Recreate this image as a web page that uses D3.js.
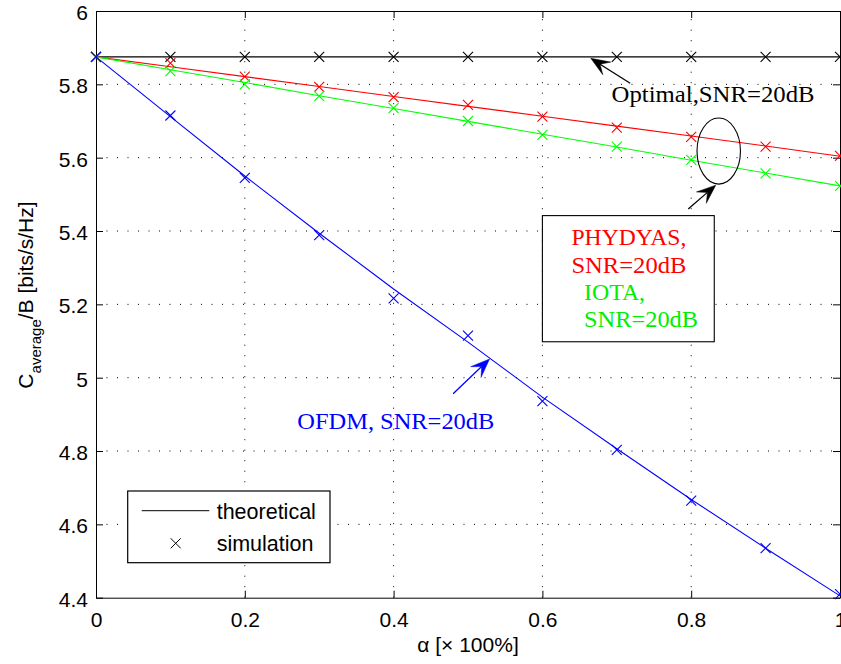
<!DOCTYPE html>
<html>
<head>
<meta charset="utf-8">
<script src="https://cdn.jsdelivr.net/npm/d3@7"></script>
<style>
  html, body { margin: 0; padding: 0; background: #fff; }
  svg { display: block; }
</style>
</head>
<body>
<svg id="chart" width="841" height="664"></svg>
<script>
// ---------- data ----------
const alpha = [0, 0.1, 0.2, 0.3, 0.4, 0.5, 0.6, 0.7, 0.8, 0.9, 1.0];

// theoretical curves
const optimalTheory = [5.875, 5.875, 5.875, 5.875, 5.875, 5.875, 5.875, 5.875, 5.875, 5.875, 5.875];
const phydyasTheory = [5.875, 5.848, 5.821, 5.794, 5.767, 5.740, 5.713, 5.686, 5.659, 5.632, 5.604];
const iotaTheory    = [5.875, 5.840, 5.805, 5.769, 5.734, 5.699, 5.664, 5.629, 5.593, 5.558, 5.523];
const ofdmTheory    = [5.875, 5.712, 5.550, 5.394, 5.242, 5.097, 4.947, 4.806, 4.668, 4.535, 4.405];

// simulation points
const optimalSim = [5.875, 5.875, 5.875, 5.875, 5.875, 5.875, 5.875, 5.875, 5.875, 5.875, 5.875];
const phydyasSim = [5.875, 5.858, 5.821, 5.793, 5.765, 5.744, 5.712, 5.682, 5.657, 5.630, 5.605];
const iotaSim    = [5.875, 5.836, 5.800, 5.768, 5.735, 5.700, 5.662, 5.630, 5.594, 5.557, 5.523];
const ofdmSim    = [5.875, 5.715, 5.545, 5.389, 5.216, 5.115, 4.936, 4.803, 4.665, 4.535, 4.410];

const xTicks = [0, 0.2, 0.4, 0.6, 0.8, 1];
const xTickLabels = ["0", "0.2", "0.4", "0.6", "0.8", "1"];
const yTicks = [4.4, 4.6, 4.8, 5, 5.2, 5.4, 5.6, 5.8, 6];
const yTickLabels = ["4.4", "4.6", "4.8", "5", "5.2", "5.4", "5.6", "5.8", "6"];

const seriesNames = ["Optimal", "PHYDYAS", "IOTA", "OFDM"];
const seriesColors = ["#000000", "#ff0000", "#00ff00", "#0000ff"];
const theorySeries = [optimalTheory, phydyasTheory, iotaTheory, ofdmTheory];
const simSeries = [optimalSim, phydyasSim, iotaSim, ofdmSim];

// ---------- layout ----------
const svg = d3.select("#chart");
const margin = { left: 96, top: 11, right: 1, bottom: 66.3 };
const W = 841 - margin.left - margin.right;
const H = 664 - margin.top - margin.bottom;

const x = d3.scaleLinear().domain([0, 1]).range([margin.left, margin.left + W]);
const y = d3.scaleLinear().domain([4.4, 6]).range([margin.top + H, margin.top]);

const sansFont = "'Liberation Sans', Arial, Helvetica, sans-serif";
const serifFont = "'Liberation Serif', 'Times New Roman', serif";

// ---------- grid ----------
const grid = svg.append("g");
xTicks.forEach(t => {
  if (t === 0 || t === 1) return;
  grid.append("line")
    .attr("x1", x(t)).attr("x2", x(t))
    .attr("y1", y(4.4)).attr("y2", y(6))
    .attr("stroke", "#000").attr("stroke-width", 1)
    .attr("stroke-dasharray", "1,9.5");
});
yTicks.forEach(t => {
  if (t === 4.4 || t === 6) return;
  grid.append("line")
    .attr("x1", x(0)).attr("x2", x(1))
    .attr("y1", y(t)).attr("y2", y(t))
    .attr("stroke", "#000").attr("stroke-width", 1)
    .attr("stroke-dasharray", "1,9.5");
});

// ---------- axes ----------
const tickLen = 7;
const axB = svg.append("g").attr("transform", `translate(0,${y(4.4)})`)
  .call(d3.axisBottom(x).tickValues(xTicks).tickSizeInner(-tickLen).tickSizeOuter(0)
    .tickFormat((d, i) => xTickLabels[i]).tickPadding(18));
const axT = svg.append("g").attr("transform", `translate(0,${y(6)})`)
  .call(d3.axisTop(x).tickValues(xTicks).tickSizeInner(-tickLen).tickSizeOuter(0).tickFormat(""));
const axL = svg.append("g").attr("transform", `translate(${x(0)},0)`)
  .call(d3.axisLeft(y).tickValues(yTicks).tickSizeInner(-tickLen).tickSizeOuter(0)
    .tickFormat((d, i) => yTickLabels[i]).tickPadding(15));
const axR = svg.append("g").attr("transform", `translate(${x(1)},0)`)
  .call(d3.axisRight(y).tickValues(yTicks).tickSizeInner(-tickLen).tickSizeOuter(0).tickFormat(""));

[axB, axT, axL, axR].forEach(a => {
  a.select(".domain").attr("stroke", "#000").attr("stroke-width", 1);
  a.selectAll(".tick line").attr("stroke", "#000").attr("stroke-width", 1);
  a.selectAll("text").attr("fill", "#000").style("font-family", sansFont).style("font-size", "21px");
});
axB.selectAll("text").attr("dy", "0.71em").attr("y", 14);
axL.selectAll("text").attr("dy", "0.4em").attr("x", -8);

// ---------- theoretical lines ----------
const lineGen = d3.line().x((d, i) => x(alpha[i])).y(d => y(d));
const linesG = svg.append("g");
theorySeries.forEach((s, k) => {
  linesG.append("path")
    .datum(s)
    .attr("d", lineGen)
    .attr("fill", "none")
    .attr("stroke", seriesColors[k])
    .attr("stroke-width", 1.1);
});

// ---------- simulation markers ----------
const ms = 5;
const crossPath = (cx, cy) => `M${cx - ms},${cy - ms}L${cx + ms},${cy + ms}M${cx - ms},${cy + ms}L${cx + ms},${cy - ms}`;
const markG = svg.append("g");
simSeries.forEach((s, k) => {
  markG.selectAll(null)
    .data(s)
    .enter().append("path")
    .attr("d", (d, i) => crossPath(x(alpha[i]), y(d)))
    .attr("fill", "none")
    .attr("stroke", seriesColors[k])
    .attr("stroke-width", 1.1);
});

// ---------- annotations ----------
function arrow(x0, y0, x1, y1, color) {
  const px0 = x(x0), py0 = y(y0), px1 = x(x1), py1 = y(y1);
  const dx = px1 - px0, dy = py1 - py0;
  const len = Math.hypot(dx, dy);
  const ux = dx / len, uy = dy / len;
  const nx = -uy, ny = ux;
  const L = 19, Wd = 7.5, notch = 11;
  const g = svg.append("g");
  g.append("line")
    .attr("x1", px0).attr("y1", py0)
    .attr("x2", px1 - ux * notch).attr("y2", py1 - uy * notch)
    .attr("stroke", color).attr("stroke-width", 1.3);
  const bx = px1 - ux * L, by = py1 - uy * L;
  const pts = [
    [px1, py1],
    [bx + nx * Wd, by + ny * Wd],
    [px1 - ux * notch, py1 - uy * notch],
    [bx - nx * Wd, by - ny * Wd]
  ];
  g.append("path")
    .attr("d", "M" + pts.map(p => p.join(",")).join("L") + "Z")
    .attr("fill", color).attr("stroke", color).attr("stroke-width", 0.5);
}

function serifText(xv, yv, str, color, width) {
  svg.append("text")
    .attr("x", x(xv)).attr("y", y(yv))
    .attr("fill", color)
    .attr("textLength", width)
    .attr("lengthAdjust", "spacingAndGlyphs")
    .style("font-family", serifFont)
    .style("font-size", "22.5px")
    .text(str);
}

// Optimal
arrow(0.718, 5.803, 0.665, 5.871, "#000");
serifText(0.693, 5.753, "Optimal,SNR=20dB", "#000", 203);

// ellipse around PHYDYAS / IOTA
svg.append("ellipse")
  .attr("cx", x(0.837)).attr("cy", y(5.618))
  .attr("rx", x(0.837 + 0.0292) - x(0.837))
  .attr("ry", y(5.618) - y(5.618 + 0.09))
  .attr("fill", "none").attr("stroke", "#000").attr("stroke-width", 1.1);
arrow(0.796, 5.460, 0.833, 5.525, "#000");

// text box
svg.append("rect")
  .attr("x", x(0.600)).attr("y", y(5.442))
  .attr("width", x(0.831) - x(0.600))
  .attr("height", y(5.098) - y(5.442))
  .attr("fill", "#fff").attr("stroke", "#000").attr("stroke-width", 1.1);
serifText(0.639, 5.362, "PHYDYAS,", "#ff0000", 115);
serifText(0.639, 5.2855, "SNR=20dB", "#ff0000", 115);
serifText(0.656, 5.212, "IOTA,", "#00ee00", 61);
serifText(0.656, 5.139, "SNR=20dB", "#00ee00", 114);

// OFDM
arrow(0.480, 4.956, 0.529, 5.051, "#0000ff");
serifText(0.2706, 4.860, "OFDM, SNR=20dB", "#0000ff", 197);

// ---------- legend ----------
const lg = svg.append("g");
lg.append("rect")
  .attr("x", 127.7).attr("y", 491).attr("width", 202.3).attr("height", 71.7)
  .attr("fill", "#fff").attr("stroke", "#000").attr("stroke-width", 1.2);
lg.append("line")
  .attr("x1", 141.7).attr("x2", 209.3).attr("y1", 510.7).attr("y2", 510.7)
  .attr("stroke", "#000").attr("stroke-width", 1);
lg.append("path")
  .attr("d", crossPath(175.7, 543.3))
  .attr("fill", "none").attr("stroke", "#000").attr("stroke-width", 1);
lg.append("text").attr("x", 216.7).attr("y", 518.5)
  .style("font-family", sansFont).style("font-size", "21.5px").attr("fill", "#000")
  .text("theoretical");
lg.append("text").attr("x", 216.7).attr("y", 550.5)
  .style("font-family", sansFont).style("font-size", "21.5px").attr("fill", "#000")
  .text("simulation");

// ---------- axis labels ----------
svg.append("text")
  .attr("x", x(0.5)).attr("y", 652)
  .attr("text-anchor", "middle")
  .style("font-family", sansFont).style("font-size", "21px").attr("fill", "#000")
  .text("α [× 100%]");

const yl = svg.append("text")
  .attr("transform", `translate(33,295) rotate(-90)`)
  .attr("text-anchor", "middle")
  .style("font-family", sansFont).style("font-size", "21px").attr("fill", "#000");
yl.append("tspan").text("C");
yl.append("tspan").attr("dy", 8).style("font-size", "15px").text("average");
yl.append("tspan").attr("dy", -8).text("/B [bits/s/Hz]");
</script>
</body>
</html>
